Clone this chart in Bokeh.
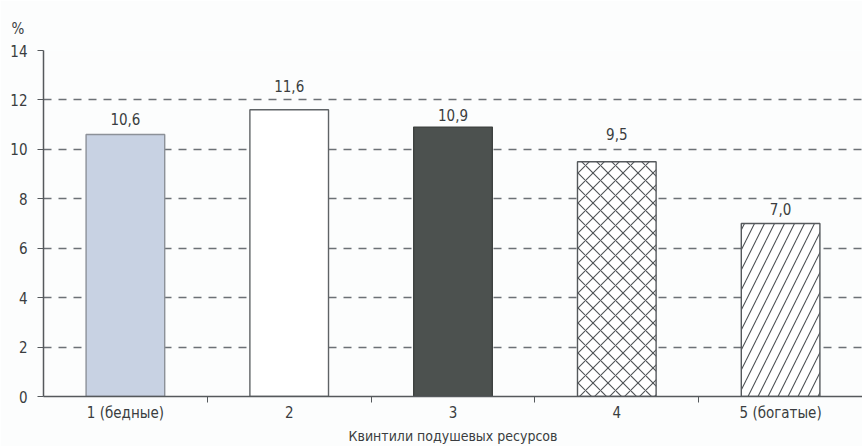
from bokeh.plotting import figure
from bokeh.models import FixedTicker, ColumnDataSource, Range1d
from bokeh.embed import file_html
from bokeh.resources import INLINE
from bokeh.core.properties import value

# Распределение по квинтилям подушевых ресурсов, %
categories = ["1 (бедные)", "2", "3", "4", "5 (богатые)"]
shares = [10.6, 11.6, 10.9, 9.5, 7.0]
value_labels = ["10,6", "11,6", "10,9", "9,5", "7,0"]
y_ticks = [0, 2, 4, 6, 8, 10, 12, 14]

# bar styling per quintile
fills = ["#c8d2e3", "#ffffff", "#4c514f", "#ffffff", "#ffffff"]
outlines = ["#8c9198", "#5f6366", "#3e4240", "#55595c", "#55595c"]
hatches = [" ", " ", " ", "diagonal_cross", "right_diagonal_line"]
hatch_scales = [12, 12, 12, 15, 20]
# lift of each value label above its bar (px), keeps labels clear of grid lines
label_lift = [-16, -24, -12, -28, -15]

FONT = "DejaVu Sans Condensed, Roboto, sans-serif"
TEXT = "#3a3d40"

xs = [i + 1 for i in range(len(categories))]
src = ColumnDataSource(dict(x=xs, y=shares, lab=value_labels, fill=fills,
                            line=outlines, hatch=hatches, hs=hatch_scales,
                            lift=label_lift))

p = figure(width=862, height=446, output_backend="svg", toolbar_location=None,
           x_range=Range1d(0.5, len(categories) + 0.5), y_range=Range1d(0, 14),
           min_border_left=43, min_border_right=0, min_border_top=50,
           min_border_bottom=0, background_fill_color="#fcfdfd",
           border_fill_color="#fcfdfd", title="%")
p.outline_line_color = None
p.xgrid.grid_line_color = None
p.ygrid.grid_line_color = "#6c7176"
p.ygrid.grid_line_dash = "8 7"
p.ygrid.grid_line_width = 1.4

# unit mark above the value axis
p.title.align = "left"
p.title.vertical_align = "top"
p.title.offset = -32
p.title.standoff = 22
p.title.text_font = FONT
p.title.text_font_size = "15px"
p.title.text_font_style = "normal"
p.title.text_color = TEXT

p.vbar(x="x", top="y", width=0.48, source=src, fill_color="fill",
       line_color="line", line_width=1.4, hatch_pattern="hatch",
       hatch_color="#4f5356", hatch_scale="hs", hatch_weight=1.1)

p.text(x="x", y="y", text="lab", source=src, text_align="center",
       text_baseline="middle", y_offset="lift", text_font=value(FONT),
       text_font_size="15px", text_color=TEXT)

# y axis
ya = p.yaxis[0]
ya.ticker = FixedTicker(ticks=y_ticks)
ya.major_tick_in = 0
ya.major_tick_out = 6
ya.minor_tick_line_color = None
ya.axis_line_color = "#55595c"
ya.axis_line_width = 1.5
ya.major_tick_line_color = "#55595c"
ya.major_label_standoff = 10
ya.major_label_text_font = FONT
ya.major_label_text_font_size = "15px"
ya.major_label_text_color = TEXT

# x axis: labels at bar centres, ticks between quintiles
xa = p.xaxis[0]
xa.ticker = FixedTicker(ticks=xs, minor_ticks=[x + 0.5 for x in xs[:-1]])
xa.major_label_overrides = {x: c for x, c in zip(xs, categories)}
xa.major_tick_line_color = None
xa.minor_tick_in = 0
xa.minor_tick_out = 6
xa.minor_tick_line_color = "#55595c"
xa.axis_line_color = "#55595c"
xa.axis_line_width = 1.5
xa.major_label_standoff = 1
xa.major_label_text_font = FONT
xa.major_label_text_font_size = "15px"
xa.major_label_text_color = TEXT
xa.axis_label = "Квинтили подушевых ресурсов"
xa.axis_label_standoff = 3
xa.axis_label_text_font = FONT
xa.axis_label_text_font_size = "14px"
xa.axis_label_text_font_style = "normal"
xa.axis_label_text_color = TEXT

open("out.html", "w").write(file_html(p, INLINE))
